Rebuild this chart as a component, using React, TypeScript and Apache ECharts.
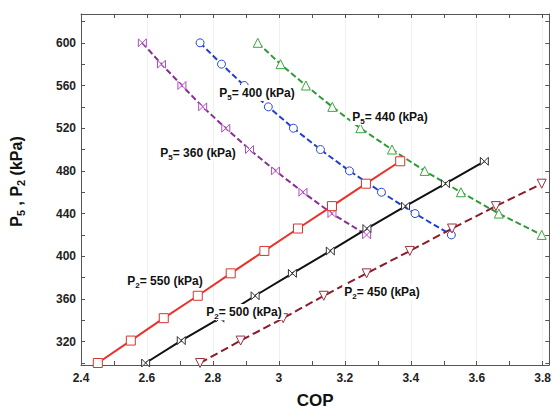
import React, { useEffect, useRef } from 'react';
import * as echarts from 'echarts';

// P5 curves (y = P2 levels, x = COP)
const p2Levels = [600, 580, 560, 540, 520, 500, 480, 460, 440, 420];
const copP5_360 = [2.586, 2.644, 2.706, 2.769, 2.839, 2.911, 2.99, 3.073, 3.161, 3.266];
const copP5_400 = [2.761, 2.826, 2.895, 2.968, 3.044, 3.126, 3.214, 3.311, 3.413, 3.523];
const copP5_440 = [2.936, 3.005, 3.082, 3.162, 3.247, 3.343, 3.442, 3.552, 3.667, 3.797];

// P2 curves (y = P5 levels, x = COP)
const p5Levels = [300, 321, 342, 363, 384, 405, 426, 447, 468, 489];
const copP2_550 = [2.451, 2.551, 2.651, 2.754, 2.854, 2.956, 3.058, 3.161, 3.264, 3.368];
const copP2_500 = [2.596, 2.704, 2.821, 2.928, 3.041, 3.156, 3.267, 3.384, 3.505, 3.623];
const copP2_450 = [2.761, 2.884, 3.013, 3.136, 3.266, 3.397, 3.525, 3.658, 3.797];

const xMin = 2.4;
const xMax = 3.82;
const yMin = 300;
const yMax = 627;

const FONT = "'Liberation Sans', Arial, Helvetica, sans-serif";

const BOWTIE = 'path://M-1 -1 L1 1 L1 -1 L-1 1 Z';
const DOWN_TRI = 'path://M0 1 L-1 -0.8 L1 -0.8 Z';

function pairs(xs: number[], ys: number[]) {
  return xs.map((x, i) => [x, ys[i]]);
}

const rich = {
  b: { fontSize: 12, fontWeight: 'bold', fontFamily: FONT, fill: '#111', color: '#111', lineHeight: 16 },
  s: { fontSize: 8, fontWeight: 'bold', fontFamily: FONT, fill: '#111', color: '#111', lineHeight: 8, verticalAlign: 'bottom' },
};

function annot(x: number, y: number, sub: string, rest: string) {
  return {
    type: 'text',
    x,
    y,
    z: 100,
    style: {
      text: `{b|P}{s|${sub}}{b|${rest}}`,
      rich,
      align: 'center',
      verticalAlign: 'middle',
      backgroundColor: '#fff',
      padding: [0, 2],
    },
  };
}

export default function App() {
  const ref = useRef<HTMLDivElement>(null);
  useEffect(() => {
    if (!ref.current) return;
    const chart = echarts.init(ref.current, null, { renderer: 'svg' });
    const axisColor = '#555';
    const xFmt = (v: number) => {
      const t = Math.round(v * 10);
      if (Math.abs(v * 10 - t) > 1e-6) return '';
      if (t % 2 !== 0 || t > 38) return '';
      return String(t / 10);
    };
    const yFmt = (v: number) => (v % 40 === 0 && v >= 320 && v <= 600 ? String(v) : '');
    const line = (
      name: string,
      data: number[][],
      color: string,
      markColor: string,
      symbol: string,
      size: number,
      dashed: number[] | null,
    ) => ({
      name,
      type: 'line',
      data,
      xAxisIndex: 0,
      yAxisIndex: 0,
      symbol,
      symbolSize: size,
      showAllSymbol: true,
      lineStyle: { color, width: 2, type: dashed ? dashed : 'solid' },
      itemStyle: { color: '#fff', borderColor: markColor, borderWidth: 1 },
      emphasis: { disabled: true },
      z: 3,
    });
    chart.setOption({
      animation: false,
      grid: { left: 78, right: 4, top: 14, bottom: 46 },
      xAxis: [
        {
          type: 'value',
          position: 'bottom',
          offset: 2,
          min: xMin,
          max: xMax,
          interval: 0.1,
          axisLine: { show: true, onZero: false, lineStyle: { color: axisColor } },
          axisTick: { show: true, inside: true, length: 4, lineStyle: { color: axisColor } },
          axisLabel: { formatter: xFmt, color: '#222', fontWeight: 'bold', fontSize: 12, fontFamily: FONT, margin: 7 },
          splitLine: { show: false },
          name: 'COP',
          nameLocation: 'middle',
          nameGap: 27,
          nameTextStyle: { fontSize: 17, fontWeight: 'bold', fontFamily: FONT, color: '#111' },
        },
        {
          type: 'value',
          position: 'top',
          min: xMin,
          max: xMax,
          interval: 0.1,
          axisLine: { show: true, onZero: false, lineStyle: { color: axisColor } },
          axisTick: { show: true, inside: true, length: 4, lineStyle: { color: axisColor } },
          axisLabel: { show: false },
          splitLine: { show: false },
        },
        {
          type: 'value',
          position: 'bottom',
          min: xMin,
          max: xMax,
          interval: 0.2,
          axisLine: { show: false },
          axisTick: { show: false },
          axisLabel: { show: false },
          splitLine: { show: true, lineStyle: { color: '#f0f0f0' } },
        },
      ],
      yAxis: [
        {
          type: 'value',
          position: 'left',
          min: yMin,
          max: yMax,
          interval: 20,
          axisLine: { show: true, onZero: false, lineStyle: { color: axisColor } },
          axisTick: { show: true, inside: true, length: 4, lineStyle: { color: axisColor } },
          axisLabel: { formatter: yFmt, color: '#222', fontWeight: 'bold', fontSize: 12, fontFamily: FONT, margin: 5 },
          splitLine: { show: false },
          name: '{b|P}{s|5}{b| , P}{s|2}{b| (kPa)}',
          nameLocation: 'middle',
          nameGap: 55,
          nameTextStyle: {
            padding: [0, 0, 0, 14],
            rich: {
              b: { fontSize: 16, fontWeight: 'bold', fontFamily: FONT, color: '#111', lineHeight: 20 },
              s: { fontSize: 11, fontWeight: 'bold', fontFamily: FONT, color: '#111', lineHeight: 11, verticalAlign: 'bottom' },
            },
          },
        },
        {
          type: 'value',
          position: 'right',
          min: yMin,
          max: yMax,
          interval: 20,
          axisLine: { show: true, onZero: false, lineStyle: { color: axisColor } },
          axisTick: { show: true, inside: true, length: 4, lineStyle: { color: axisColor } },
          axisLabel: { show: false },
          splitLine: { show: false },
        },
      ],
      series: [
        line('P5=360', pairs(copP5_360, p2Levels), '#8a2d98', '#b04cc0', BOWTIE, 8, [6, 3]),
        line('P5=400', pairs(copP5_400, p2Levels), '#1f3fd0', '#2a48d8', 'circle', 8, [6, 3]),
        line('P5=440', pairs(copP5_440, p2Levels), '#2e9b34', '#3aa53f', 'triangle', 9, [6, 3]),
        line('P2=550', pairs(copP2_550, p5Levels), '#e8322a', '#d8352d', 'rect', 9, null),
        line('P2=500', pairs(copP2_500, p5Levels), '#111111', '#333333', BOWTIE, 8, null),
        line('P2=450', pairs(copP2_450, p5Levels), '#8b1c2c', '#9a3040', DOWN_TRI, 9, [8, 4]),
      ],
      graphic: [
        annot(198, 153, '5', '= 360 (kPa)'),
        annot(257, 93, '5', '= 400 (kPa)'),
        annot(390, 117, '5', '= 440 (kPa)'),
        annot(165, 281, '2', '= 550 (kPa)'),
        annot(244, 312, '2', '= 500 (kPa)'),
        annot(382, 292, '2', '= 450 (kPa)'),
      ],
    });
    return () => chart.dispose();
  }, []);
  return <div ref={ref} style={{ width: 554, height: 414, position: 'absolute', left: 0, top: 0, background: '#fff' }} />;
}
